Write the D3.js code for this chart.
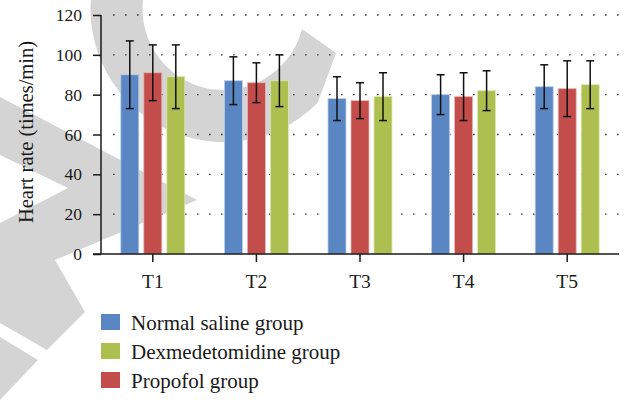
<!DOCTYPE html>
<html>
<head>
<meta charset="utf-8">
<script src="https://cdn.jsdelivr.net/npm/d3@7"></script>
<style>
  body { margin: 0; background: #fff; }
  svg text { font-family: "Liberation Serif", "Times New Roman", serif; fill: #1a1a1a; }
</style>
</head>
<body>
<svg id="chart" width="636" height="400"></svg>
<script>
// data
var times = ["T1", "T2", "T3", "T4", "T5"];
var groups = ["Normal saline group", "Propofol group", "Dexmedetomidine group"]; // bar order
var legendOrder = ["Normal saline group", "Dexmedetomidine group", "Propofol group"];
var salineMean = [90, 87, 78, 80, 84];
var salineSd   = [17, 12, 11, 10, 11];
var propofolMean = [91, 86, 77, 79, 83];
var propofolSd   = [14, 10, 9, 12, 14];
var dexMean = [89, 87, 79, 82, 85];
var dexSd   = [16, 13, 12, 10, 12];
var yTicks = [0, 20, 40, 60, 80, 100, 120];

var color = d3.scaleOrdinal()
  .domain(groups)
  .range(["#5a87c3", "#c24d4a", "#adc04f"]);
var edge = d3.scaleOrdinal()
  .domain(groups)
  .range(["#bccde6", "#e5b6b4", "#dce6b6"]);

var means = { "Normal saline group": salineMean, "Propofol group": propofolMean, "Dexmedetomidine group": dexMean };
var sds = { "Normal saline group": salineSd, "Propofol group": propofolSd, "Dexmedetomidine group": dexSd };

var svg = d3.select("#chart");

// publisher watermark in the background
var wm = svg.append("g").attr("fill", "#d4d4d4");
(function() {
  var cx = 223.5, cy = 9, rIn = 81, rOut = 133;
  var rad = Math.PI / 180;
  var p = d3.path();
  p.moveTo(cx + rIn * Math.cos(14.3 * rad), cy + rIn * Math.sin(14.3 * rad));
  p.arc(cx, cy, rIn, 14.3 * rad, 200 * rad, false);
  p.lineTo(cx + rOut * Math.cos(200 * rad), cy + rOut * Math.sin(200 * rad));
  p.arc(cx, cy, rOut, 200 * rad, 45 * rad, true);
  p.lineTo(336, 53);
  p.closePath();
  wm.append("path").attr("d", p.toString());
  wm.append("path").attr("d", "M0,97L197,200L55,260L85,312L47,350L0,323L0,223L68,188L0,155Z");
  wm.append("path").attr("d", "M0,337L38,360L0,400Z");
})();

var x0 = d3.scaleBand().domain(times).range([101, 619]);
var x1 = d3.scaleBand().domain(groups).range([-32, 32]).paddingInner(5 / 23);
var y = d3.scaleLinear().domain([0, 120]).range([254, 15]);

// dotted grid
svg.append("g").selectAll("line")
  .data(yTicks.slice(1))
  .enter().append("line")
  .attr("x1", 113).attr("x2", 619)
  .attr("y1", function(d) { return y(d); })
  .attr("y2", function(d) { return y(d); })
  .attr("stroke", "#3a3a3a")
  .attr("stroke-width", 1.3)
  .attr("stroke-dasharray", "1.6 10.4");

// bars
var rows = [];
groups.forEach(function(g) {
  times.forEach(function(t, i) {
    rows.push({ group: g, time: t, mean: means[g][i], sd: sds[g][i] });
  });
});

var bars = svg.append("g");
bars.selectAll("rect")
  .data(rows)
  .enter().append("rect")
  .attr("x", function(d) { return x0(d.time) + x0.bandwidth() / 2 + x1(d.group); })
  .attr("y", function(d) { return y(d.mean); })
  .attr("width", x1.bandwidth())
  .attr("height", function(d) { return y(0) - y(d.mean); })
  .attr("fill", function(d) { return color(d.group); })
  .attr("stroke", function(d) { return edge(d.group); })
  .attr("stroke-width", 0.8);

// error bars
var err = svg.append("g").attr("stroke", "#111").attr("stroke-width", 1.5);
var ex = function(d) { return x0(d.time) + x0.bandwidth() / 2 + x1(d.group) + x1.bandwidth() / 2; };
err.selectAll("line.v").data(rows).enter().append("line").attr("class", "v")
  .attr("x1", ex).attr("x2", ex)
  .attr("y1", function(d) { return y(d.mean + d.sd); })
  .attr("y2", function(d) { return y(d.mean - d.sd); });
err.selectAll("line.top").data(rows).enter().append("line").attr("class", "top")
  .attr("x1", function(d) { return ex(d) - 4; }).attr("x2", function(d) { return ex(d) + 4; })
  .attr("y1", function(d) { return y(d.mean + d.sd); })
  .attr("y2", function(d) { return y(d.mean + d.sd); });
err.selectAll("line.bot").data(rows).enter().append("line").attr("class", "bot")
  .attr("x1", function(d) { return ex(d) - 4; }).attr("x2", function(d) { return ex(d) + 4; })
  .attr("y1", function(d) { return y(d.mean - d.sd); })
  .attr("y2", function(d) { return y(d.mean - d.sd); });

// y axis
var yAxis = svg.append("g")
  .attr("transform", "translate(101,0)")
  .call(d3.axisLeft(y).tickValues(yTicks).tickSize(8).tickPadding(11));
yAxis.attr("font-family", null);
yAxis.select(".domain").attr("d", "M0," + y(120) + "V" + y(0)).attr("stroke", "#1a1a1a").attr("stroke-width", 1.5);
yAxis.selectAll(".tick line").attr("stroke", "#1a1a1a").attr("stroke-width", 1.5);
yAxis.selectAll("text").style("font-size", "17.5px").attr("fill", "#1a1a1a");

// x axis
var xAxis = svg.append("g")
  .attr("transform", "translate(0," + y(0) + ")")
  .call(d3.axisBottom(x0).tickSize(8).tickPadding(12));
xAxis.attr("font-family", null);
xAxis.select(".domain").attr("d", "M93,0H619").attr("stroke", "#1a1a1a").attr("stroke-width", 1.5);
xAxis.selectAll(".tick line").attr("stroke", "#1a1a1a").attr("stroke-width", 1.5);
xAxis.selectAll("text").style("font-size", "19.5px").attr("fill", "#1a1a1a");

// y label
svg.append("text")
  .attr("transform", "translate(33,132) rotate(-90)")
  .attr("text-anchor", "middle")
  .style("font-size", "20.5px")
  .text("Heart rate (times/min)");

// legend
var leg = svg.append("g").selectAll("g")
  .data(legendOrder)
  .enter().append("g")
  .attr("transform", function(d, i) { return "translate(101," + (314 + i * 29) + ")"; });
leg.append("rect").attr("width", 19).attr("height", 16)
  .attr("fill", function(d) { return color(d); });
leg.append("text").attr("x", 30).attr("y", 15.5)
  .style("font-size", "21px")
  .text(function(d) { return d; });
</script>
</body>
</html>
